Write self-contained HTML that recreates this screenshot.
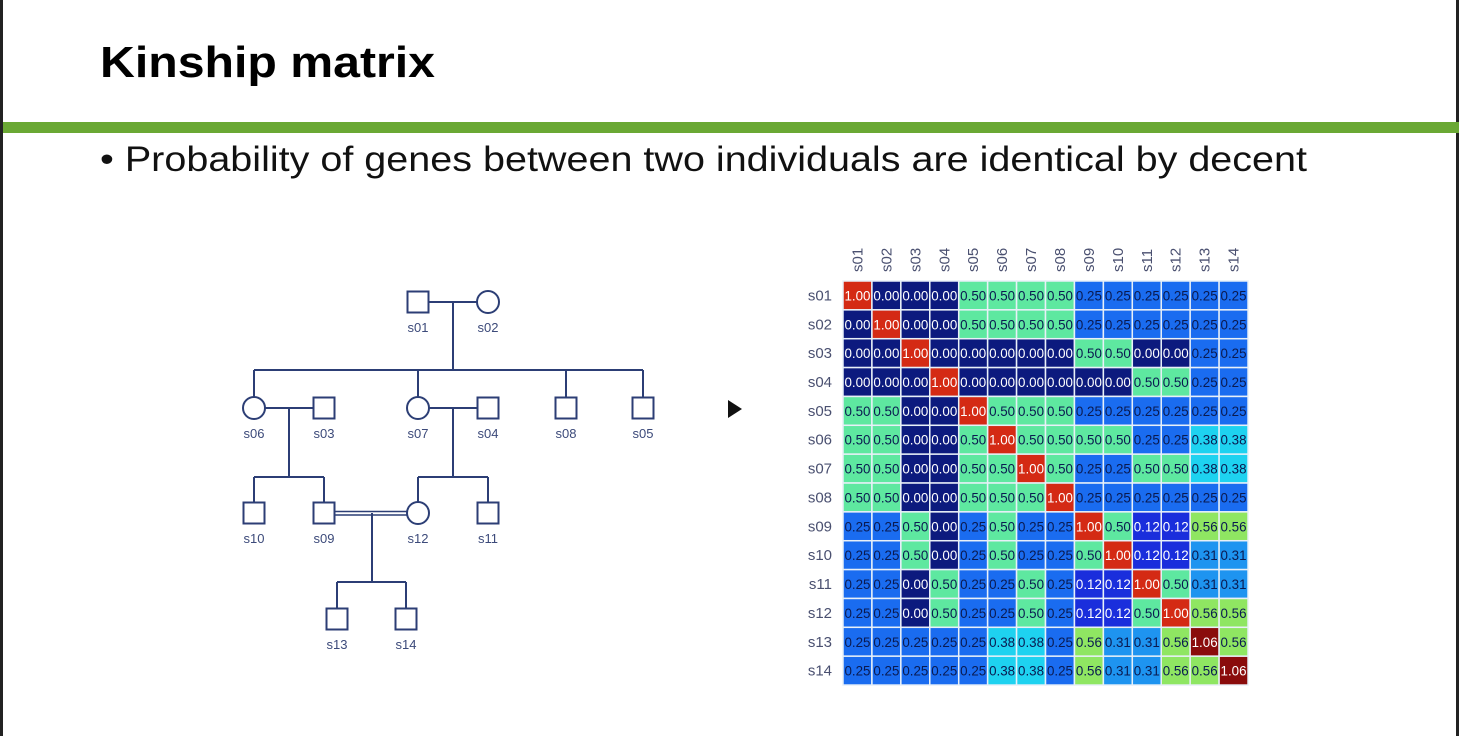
<!DOCTYPE html>
<html><head><meta charset="utf-8"><style>
html,body{margin:0;padding:0;background:#fff;}
svg{display:block;font-family:"Liberation Sans","Noto Sans CJK SC",sans-serif;}
</style></head><body>
<svg id="s" width="1459" height="736" viewBox="0 0 1459 736">
<rect x="0" y="0" width="1459" height="736" fill="#fff"/>
<rect x="0" y="0" width="3" height="736" fill="#222"/>
<rect x="1456" y="0" width="3" height="736" fill="#222"/>
<text x="100" y="77" font-size="44" font-weight="bold" fill="#000" textLength="335" lengthAdjust="spacingAndGlyphs">Kinship matrix</text>
<rect x="3" y="122" width="1456" height="11" fill="#6aa834"/>
<text x="100" y="171" font-size="35" fill="#111" textLength="1207" lengthAdjust="spacingAndGlyphs">• Probability of genes between two individuals are identical by decent</text>
<path d="M728 400 L742 409 L728 418 Z" fill="#111"/>
<g id="ped" stroke="#2c3e75" stroke-width="2" fill="none">
<path d="M429 302H477M453 302V370M254 370H643M254 370V397M418 370V397M566 370V397M643 370V397
M265 408H313M289 408V477M254 477H324M254 477V502M324 477V502
M429 408H477M453 408V477M418 477H488M418 477V502M488 477V502
M372 513V582M337 582H406M337 582V608M406 582V608"/>
<path d="M335 511.5H407M335 515H407" stroke-width="1.6"/>
</g>
<g id="matrix"></g>
</svg>
<script>
const NS="http://www.w3.org/2000/svg";
const labels=["s01","s02","s03","s04","s05","s06","s07","s08","s09","s10","s11","s12","s13","s14"];
const row01=[1,0,0,0,.5,.5,.5,.5,.25,.25,.25,.25,.25,.25];
const row02=[0,1,0,0,.5,.5,.5,.5,.25,.25,.25,.25,.25,.25];
const row03=[0,0,1,0,0,0,0,0,.5,.5,0,0,.25,.25];
const row04=[0,0,0,1,0,0,0,0,0,0,.5,.5,.25,.25];
const row05=[.5,.5,0,0,1,.5,.5,.5,.25,.25,.25,.25,.25,.25];
const row06=[.5,.5,0,0,.5,1,.5,.5,.5,.5,.25,.25,.38,.38];
const row07=[.5,.5,0,0,.5,.5,1,.5,.25,.25,.5,.5,.38,.38];
const row08=[.5,.5,0,0,.5,.5,.5,1,.25,.25,.25,.25,.25,.25];
const row09=[.25,.25,.5,0,.25,.5,.25,.25,1,.5,.12,.12,.56,.56];
const row10=[.25,.25,.5,0,.25,.5,.25,.25,.5,1,.12,.12,.31,.31];
const row11=[.25,.25,0,.5,.25,.25,.5,.25,.12,.12,1,.5,.31,.31];
const row12=[.25,.25,0,.5,.25,.25,.5,.25,.12,.12,.5,1,.56,.56];
const row13=[.25,.25,.25,.25,.25,.38,.38,.25,.56,.31,.31,.56,1.06,.56];
const row14=[.25,.25,.25,.25,.25,.38,.38,.25,.56,.31,.31,.56,.56,1.06];
const matrix=[row01,row02,row03,row04,row05,row06,row07,row08,row09,row10,row11,row12,row13,row14];
const peds=[["s01","sq",418,302],["s02","ci",488,302],["s06","ci",254,408],["s03","sq",324,408],["s07","ci",418,408],["s04","sq",488,408],["s08","sq",566,408],["s05","sq",643,408],["s10","sq",254,513],["s09","sq",324,513],["s12","ci",418,513],["s11","sq",488,513],["s13","sq",337,619],["s14","sq",406,619]];

const svg=document.getElementById('s');
peds.forEach(p=>{
  let e;
  if(p[1]==="sq"){e=document.createElementNS(NS,'rect');e.setAttribute('x',p[2]-10.5);e.setAttribute('y',p[3]-10.5);e.setAttribute('width',21);e.setAttribute('height',21);}
  else{e=document.createElementNS(NS,'circle');e.setAttribute('cx',p[2]);e.setAttribute('cy',p[3]);e.setAttribute('r',11);}
  e.setAttribute('fill','#fff');e.setAttribute('stroke','#2c3e75');e.setAttribute('stroke-width','2');
  
  
  svg.appendChild(e);
  const t=document.createElementNS(NS,'text');
  t.setAttribute('x',p[2]);t.setAttribute('y',p[3]+30);t.setAttribute('font-size','13');t.setAttribute('fill','#3c4a7a');t.setAttribute('text-anchor','middle');
  t.textContent=p[0];
  
  
  svg.appendChild(t);
});

const g=document.getElementById('matrix');
const x0=843,y0=281,cw=28.93,ch=28.86;
const xPos=i=>x0+i*cw, yPos=j=>y0+j*ch;
function color(v){
  if(v>1.03) return "#8a0c0c";
  if(v>0.9) return "#d42a14";
  if(v>0.53) return "#8fe662";
  if(v>0.45) return "#5ee8a0";
  if(v>0.34) return "#1ed2f0";
  if(v>0.28) return "#1e94f0";
  if(v>0.2) return "#1a6cf0";
  if(v>0.05) return "#1a2edc";
  return "#0c1a7e";
}
function tcol(v){return (v>0.9||v<0.2)?"#fff":"#0a1a50";}
labels.forEach((l,i)=>{
  const t=document.createElementNS(NS,'text');
  const cx=xPos(i)+cw/2+5;
  t.setAttribute('transform',`translate(${cx},272) rotate(-90)`);
  t.setAttribute('font-size','15');t.setAttribute('fill','#4a5070');
  t.textContent=l;
  
  
  g.appendChild(t);
  const r=document.createElementNS(NS,'text');
  r.setAttribute('x',832);r.setAttribute('y',yPos(i)+ch/2+5);r.setAttribute('text-anchor','end');
  r.setAttribute('font-size','15');r.setAttribute('fill','#4a5070');
  r.textContent=l;
  
  
  g.appendChild(r);
});
matrix.forEach((row,j)=>row.forEach((v,i)=>{
  const c=document.createElementNS(NS,'rect');
  c.setAttribute('x',xPos(i));c.setAttribute('y',yPos(j));c.setAttribute('width',cw);c.setAttribute('height',ch);
  c.setAttribute('fill',color(v));c.setAttribute('stroke','#e8f0f8');c.setAttribute('stroke-width','1.5');
  
  
  g.appendChild(c);
  const t=document.createElementNS(NS,'text');
  t.setAttribute('x',xPos(i)+cw/2);t.setAttribute('y',yPos(j)+ch/2+5);t.setAttribute('text-anchor','middle');
  t.setAttribute('font-size','14');t.setAttribute('fill',tcol(v));t.setAttribute('textLength','26');t.setAttribute('lengthAdjust','spacingAndGlyphs');
  t.textContent=v.toFixed(2);
  
  
  g.appendChild(t);
}));
</script>
</body></html>
